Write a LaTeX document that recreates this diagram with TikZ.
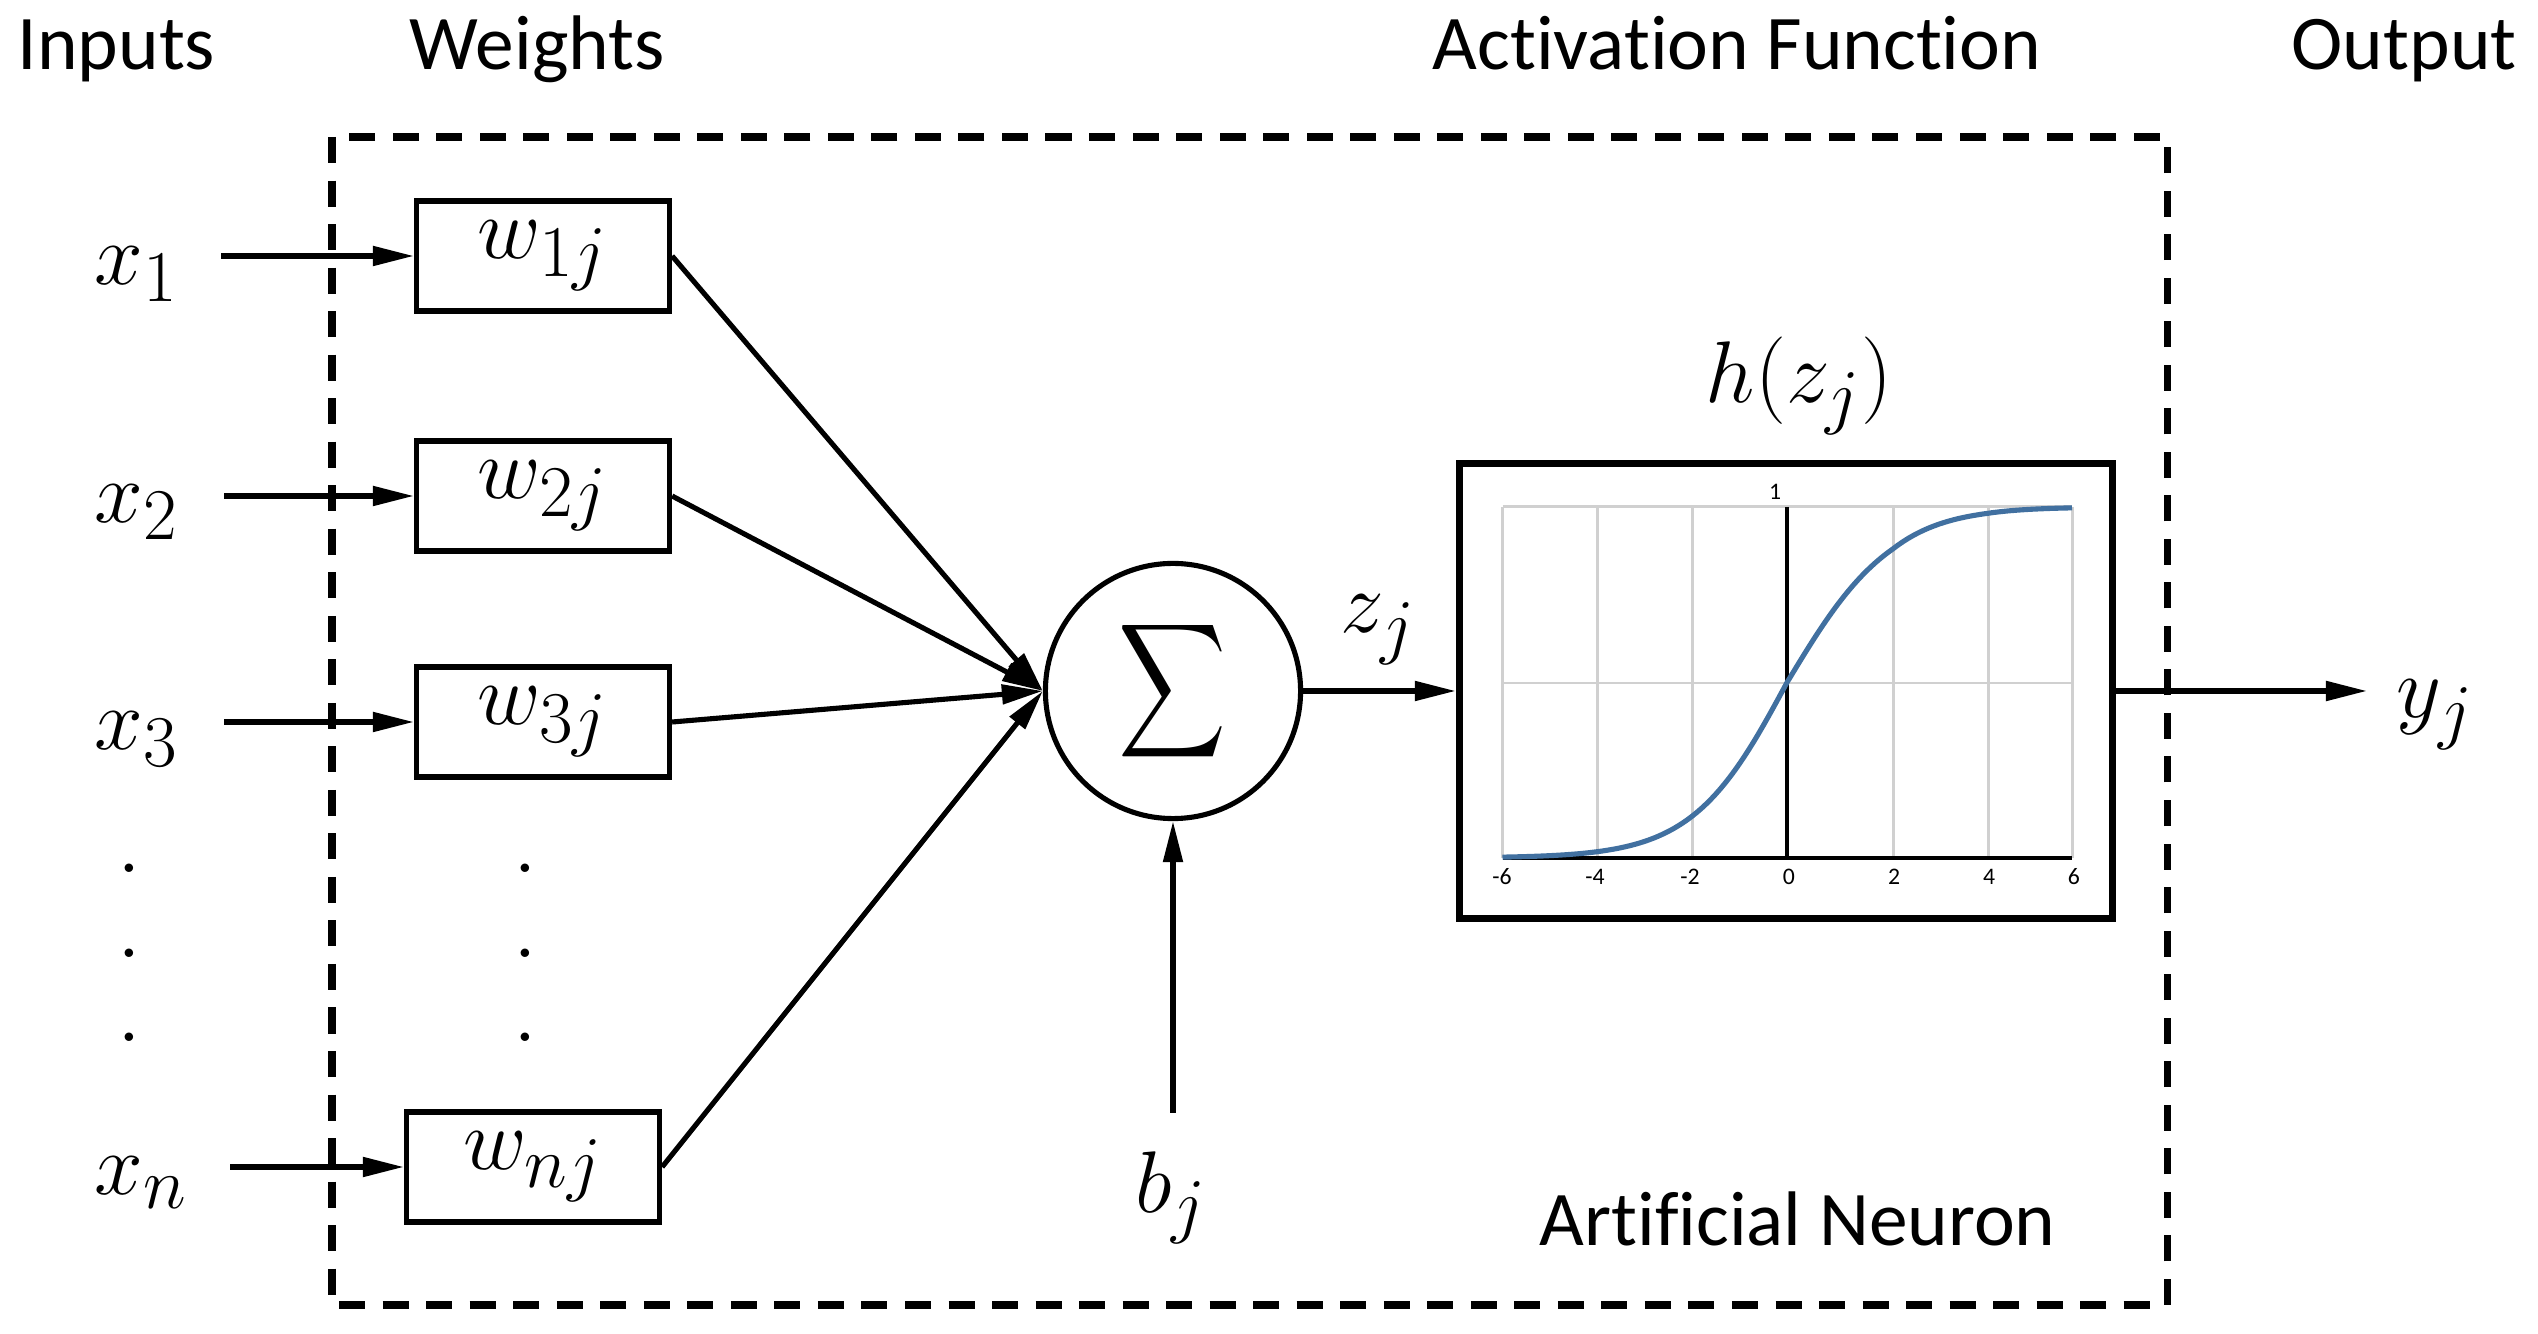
\documentclass[tikz,border=0pt]{standalone}
\usepackage[no-math]{fontspec}
\setmainfont[Ligatures=NoCommon]{Carlito}
\usepackage{graphicx}
\DeclareMathSizes{24.5}{24.5}{19.5}{15}
\usetikzlibrary{arrows.meta}
\definecolor{curveblue}{RGB}{65,112,160}
\definecolor{gridgray}{RGB}{208,208,208}
\begin{document}
\begin{tikzpicture}[x=0.01cm,y=-0.01cm,
  hdr/.style={font=\fontsize{22}{26}\selectfont, anchor=base west, inner sep=0},
  mth/.style={font=\fontsize{24.5}{30}\selectfont, inner sep=0},
  wbox/.style={draw, line width=1.45pt, minimum width=2.53cm, minimum height=1.10cm, inner sep=0, font=\fontsize{24.5}{30}\selectfont},
  conn/.style={line width=1.45pt, -{Triangle[length=0.41cm,width=0.19cm]}},
  dotnode/.style={font=\fontsize{24.5}{30}\selectfont, inner sep=0, anchor=base},
  tick/.style={font=\fontsize{6.75}{8}\selectfont, inner sep=0},
  gridline/.style={draw=gridgray, line width=0.85pt},
  axisline/.style={draw=black, line width=1.2pt},
  curve/.style={draw=curveblue, line width=1.45pt, line join=round}
]
\useasboundingbox (0,0) rectangle (2538,1334);

% headers
\node[hdr] (hin) at (17,70) {Inputs};
\node[hdr] (hw) at (409,70) {Weights};
\node[hdr] (hact) at (1432,70) {Activation Function};
\node[hdr] (hout) at (2291,70) {Output};

% dashed neuron frame
\draw[line width=2pt, dash pattern=on 0.26cm off 0.175cm] (332,137) rectangle (2167,1305);
\node[hdr] (an) at (1539,1245) {Artificial Neuron};

% inputs
\node[mth, anchor=base west] (x1) at (94,285) {$x_1$};
\node[mth, anchor=base west] (x2) at (94,523) {$x_2$};
\node[mth, anchor=base west] (x3) at (94,750) {$x_3$};
\node[mth, anchor=base west] (xn) at (94,1195) {$x_n$};

\coordinate (t1) at (221,256);
\coordinate (t2) at (224,496);
\coordinate (t3) at (224,722);
\coordinate (tn) at (230,1167);

% weights
\node[wbox] (w1) at (543,256) {$w_{1j}$};
\node[wbox] (w2) at (543,496) {$w_{2j}$};
\node[wbox] (w3) at (543,722) {$w_{3j}$};
\node[wbox] (wn) at (533,1167) {$w_{nj}$};

% dots
\node[dotnode] (d1) at (129,873) {$.$};
\node[dotnode] (d2) at (129,958) {$.$};
\node[dotnode] (d3) at (129,1042) {$.$};
\node[dotnode] (d4) at (525,873) {$.$};
\node[dotnode] (d5) at (525,958) {$.$};
\node[dotnode] (d6) at (525,1042) {$.$};

\draw[conn] (t1) -- (w1.west);
\draw[conn] (t2) -- (w2.west);
\draw[conn] (t3) -- (w3.west);
\draw[conn] (tn) -- (wn.west);

% summation
\node[draw, circle, line width=1.45pt, minimum size=2.55cm, inner sep=0] (sum) at (1173,691)
  {\resizebox*{1.08cm}{1.50cm}{$\displaystyle\sum$}};

\draw[conn] (w1.east) -- (sum.west);
\draw[conn] (w2.east) -- (sum.west);
\draw[conn] (w3.east) -- (sum.west);
\draw[conn] (wn.east) -- (sum.west);

% bias
\coordinate (bt) at (1173,1113);
\draw[conn] (bt) -- (sum.south);
\node[mth, anchor=base] (bj) at (1171,1212) {$b_j$};

% activation
\node[draw, line width=2pt, minimum width=6.53cm, minimum height=4.55cm, inner sep=0] (plot) at (1786,691) {};
\node[mth, anchor=base] (zj) at (1378,633) {$z_j$};
\node[mth, anchor=base] (hz) at (1799,403) {$h(z_j)$};
\draw[conn] (sum.east) -- (plot.west);

% chart grid
\foreach \gx in {1502.5,1597,1692,1893,1988,2072}
  \draw[gridline] (\gx,507) -- (\gx,858);
\draw[gridline] (1502.5,507) -- (2072,507);
\draw[gridline] (1502.5,683) -- (2072,683);
\draw[axisline] (1787,507) -- (1787,858);
\draw[axisline] (1502.5,858) -- (2072,858);
\draw[curve] plot[domain=-6:0,samples=61] ({1787+47.42*\x},{858-351/(1+exp(-\x))})
  -- plot[domain=0:2,samples=25] ({1787+53*\x},{858-351/(1+exp(-\x))})
  -- plot[domain=2:4,samples=20] ({1893+47.5*(\x-2)},{858-351/(1+exp(-\x))})
  -- plot[domain=4:6,samples=20] ({1988+42*(\x-4)},{858-351/(1+exp(-\x))});
\node[tick] (l1) at (1775,492) {1};
\node[tick] (lm6) at (1502,877) {-6};
\node[tick] (lm4) at (1595,877) {-4};
\node[tick] (lm2) at (1690,877) {-2};
\node[tick] (l0) at (1789,877) {0};
\node[tick] (l2) at (1894,877) {2};
\node[tick] (l4) at (1989,877) {4};
\node[tick] (l6) at (2074,877) {6};

% output
\coordinate (ytip) at (2367,691);
\draw[conn] (plot.east) -- (ytip);
\node[mth, anchor=base west] (yj) at (2396,718) {$y_j$};
\end{tikzpicture}
\end{document}
